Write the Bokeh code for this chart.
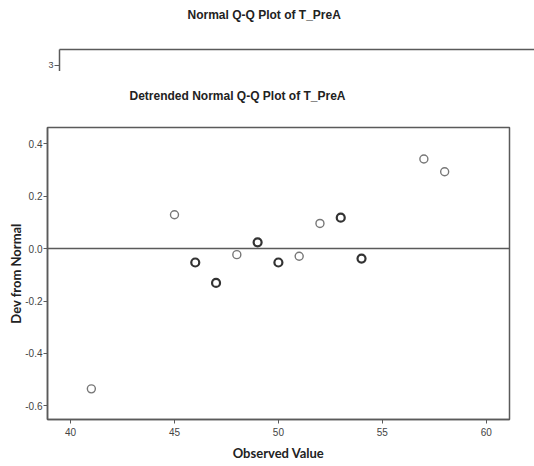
from bokeh.plotting import figure
from bokeh.layouts import column
from bokeh.models import (Range1d, FixedTicker, Span, LinearAxis,
                          ColumnDataSource, NumeralTickFormatter)
from bokeh.embed import file_html
from bokeh.resources import INLINE

# ---- data ----
observed = [41, 45, 46, 47, 48, 49, 50, 51, 52, 53, 54, 57, 58]
dev_from_normal = [-0.535, 0.129, -0.053, -0.131, -0.023, 0.024, -0.053,
                   -0.029, 0.096, 0.118, -0.038, 0.342, 0.293]
# overlapping cases make some markers look heavier
cases = [1, 1, 2, 2, 1, 2, 2, 1, 1, 2, 2, 1, 1]
x_ticks = [40, 45, 50, 55, 60]
y_ticks = [-0.6, -0.4, -0.2, 0.0, 0.2, 0.4]
reference_dev = 0.0
top_y_ticks = [3]

FRAME = "#5a5a5a"
TXT = "#444444"
BG = "white"


def style_title(fig, text, offset):
    fig.title.text = text
    fig.title.text_font = "Liberation Sans"
    fig.title.text_font_size = "12px"
    fig.title.text_font_style = "bold"
    fig.title.text_color = "#222222"
    fig.title.align = "left"
    fig.title.offset = offset


def make_spacer(ax, gap, line_color):
    """axis above the frame whose hairline, background-coloured tick only
    reserves space between the title and the frame"""
    ax.ticker = FixedTicker(ticks=[60.5])
    ax.major_tick_line_color = BG
    ax.major_tick_line_width = 0.01
    ax.minor_tick_line_color = None
    ax.major_tick_in = 0
    ax.major_tick_out = gap
    ax.minor_tick_out = 0
    ax.major_label_standoff = 0
    ax.major_label_text_color = None
    ax.axis_line_color = line_color
    ax.axis_line_width = 1.5


# ---- top (cut-off) Normal Q-Q plot ----
top = figure(width=534, height=71, output_backend="svg", toolbar_location=None,
             x_range=Range1d(38.3, 61.2), y_range=Range1d(2.714, 3.714),
             x_axis_location="above", min_border_left=59, min_border_right=0,
             min_border_top=49, min_border_bottom=0, frame_align=False)
style_title(top, "Normal Q-Q Plot of T_PreA", 128)
top.outline_line_color = None
top.grid.visible = False
top.background_fill_color = BG
top.border_fill_color = BG
make_spacer(top.above[0], 23, FRAME)
ty = top.left[0]
ty.ticker = FixedTicker(ticks=top_y_ticks)
ty.minor_tick_line_color = None
ty.major_tick_in = 0
ty.major_tick_out = 5
ty.major_tick_line_color = FRAME
ty.axis_line_color = FRAME
ty.axis_line_width = 1.5
ty.major_label_text_font = "Liberation Sans"
ty.major_label_text_font_size = "9px"
ty.major_label_text_color = TXT
ty.major_label_standoff = 1

# ---- Detrended Normal Q-Q plot ----
src = ColumnDataSource(dict(
    x=observed, y=dev_from_normal,
    lw=[2.2 if c > 1 else 1.4 for c in cases],
    col=["#333333" if c > 1 else "#777777" for c in cases],
))

p = figure(width=530, height=395, output_backend="svg", toolbar_location=None,
           x_range=Range1d(38.89, 61.12), y_range=Range1d(-0.652, 0.462),
           min_border_left=47, min_border_right=21, min_border_top=56,
           min_border_bottom=47, frame_align=False)
style_title(p, "Detrended Normal Q-Q Plot of T_PreA", 82)
p.grid.visible = False
p.outline_line_color = FRAME
p.outline_line_width = 1.5
p.background_fill_color = BG
p.border_fill_color = BG

p.add_layout(Span(location=reference_dev, dimension="width",
                  line_color=FRAME, line_width=1.5))
p.scatter("x", "y", source=src, marker="circle", size=8,
          fill_color="white", line_color="col", line_width="lw")

xa = p.below[0]
ya = p.left[0]
for ax in (xa, ya):
    ax.minor_tick_line_color = None
    ax.major_tick_in = 0
    ax.major_tick_out = 4
    ax.major_tick_line_color = FRAME
    ax.axis_line_color = FRAME
    ax.axis_line_width = 1.5
    ax.major_label_text_font = "Liberation Sans"
    ax.major_label_text_color = TXT
    ax.axis_label_text_font = "Lato"
    ax.axis_label_text_font_style = "bold"
    ax.axis_label_text_font_size = "13px"
    ax.axis_label_text_color = "#222222"

xa.ticker = FixedTicker(ticks=x_ticks)
ya.ticker = FixedTicker(ticks=y_ticks)
xa.major_label_text_font_size = "10px"
ya.major_label_text_font_size = "10px"
ya.formatter = NumeralTickFormatter(format="0.0")
xa.axis_label = "Observed Value"
ya.axis_label = "Dev from Normal"
xa.major_label_standoff = 4
ya.major_label_standoff = 1
xa.axis_label_standoff = 6
ya.axis_label_standoff = -2

spacer = LinearAxis()
make_spacer(spacer, 20, None)
p.add_layout(spacer, "above")

layout = column(top, p, spacing=0)
open("out.html", "w").write(file_html(layout, INLINE))
